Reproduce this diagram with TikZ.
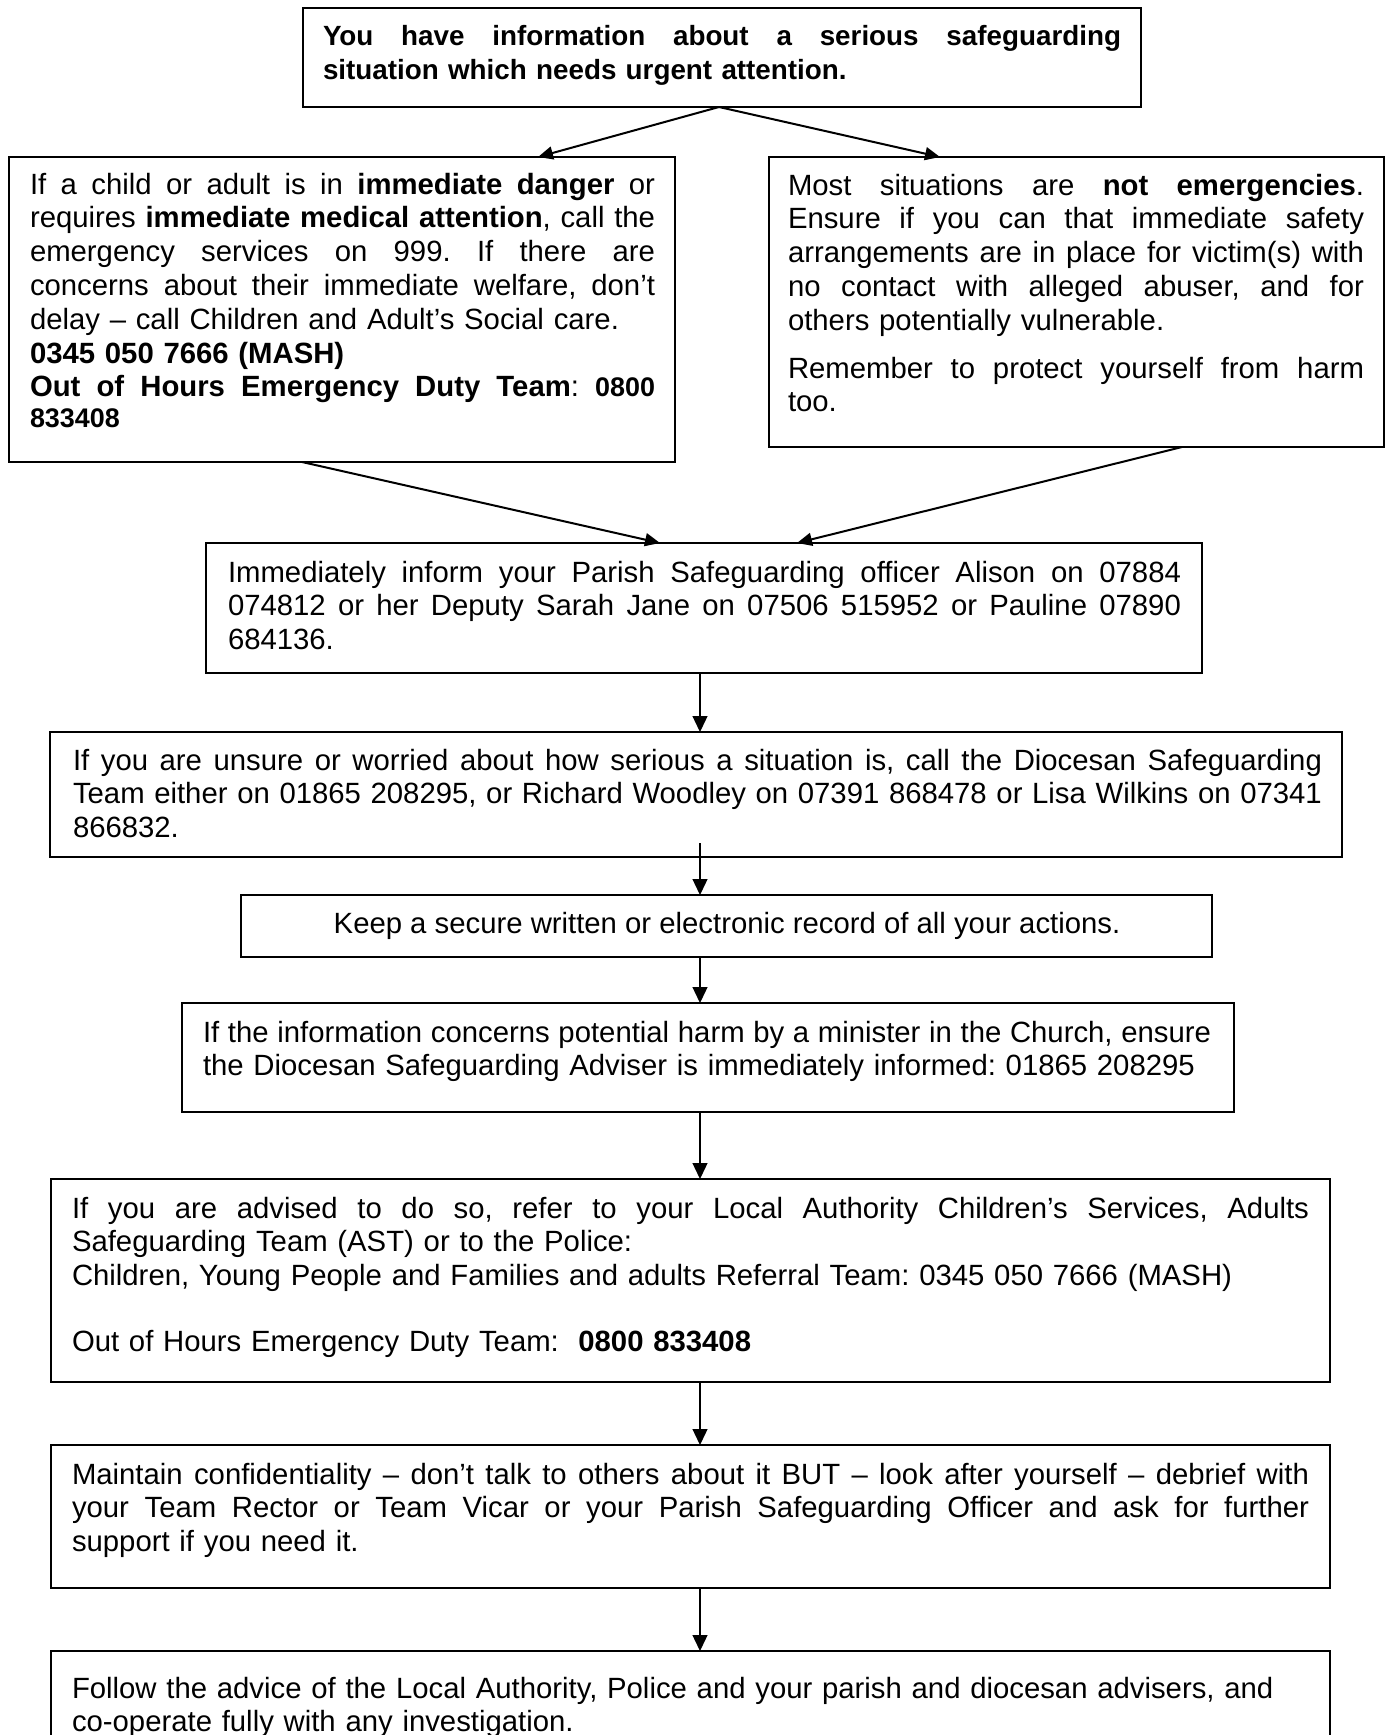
\documentclass[tikz,border=0pt]{standalone}
\usepackage{fontspec}
\setmainfont{Liberation Sans}
\usetikzlibrary{arrows.meta,fit}
\newcommand\mytext{\fontsize{14.65pt}{16.9pt}\selectfont\frenchspacing}
\newcommand\mytitle{\fontsize{13.9pt}{17pt}\selectfont\bfseries\frenchspacing}
\newcommand\mysmall{\fontsize{13.45pt}{16.9pt}\selectfont}
\newcommand\jl[2]{\leavevmode\hbox to #1{\frenchspacing\spaceskip=\fontdimen2\font plus 1fill\relax #2}}
\tikzset{
  box/.style={draw, line width=0.75pt, inner sep=0pt, outer sep=0pt, rectangle},
  txt/.style={inner sep=0pt, outer sep=0pt, anchor=base west, align=left, font=\mytext},
  darrow/.style={line width=1pt, -{Triangle[length=7.5pt,width=6.5pt]}},
  varrow/.style={line width=0.65pt, -{Triangle[length=8pt,width=7.5pt]}},
}
\begin{document}
\begin{tikzpicture}[x=0.5pt,y=-0.5pt]
\fill[white] (0,0) rectangle (1389,1735);
\useasboundingbox (0,0) rectangle (1389,1735);
\clip (0,0) rectangle (1389,1735);

% boxes
\node[box, fit={(303,8) (1141,107)}] (b1) {};
\node[box, fit={(9,157) (675,462)}] (b2) {};
\node[box, fit={(769,157) (1384,447)}] (b3) {};
\node[box, fit={(206,543) (1202,673)}] (b4) {};
\node[box, fit={(50,732) (1342,857)}] (b5) {};
\node[box, fit={(241,895) (1212,957)}] (b6) {};
\node[box, fit={(182,1003) (1234,1112)}] (b7) {};
\node[box, fit={(51,1179) (1330,1382)}] (b8) {};
\node[box, fit={(51,1445) (1330,1588)}] (b9) {};
\node[box, fit={(51,1651) (1330,1800)}] (b10) {};

% texts
\node[txt, text width=399pt, font=\mytitle] (t1) at (323,45)
 {\jl{399pt}{You have information about a serious safeguarding}\\
  situation which needs urgent attention.};

\node[txt, text width=312.5pt] (t2) at (30,194)
 {\jl{312.5pt}{If a child or adult is in \textbf{immediate danger} or}\\
  \jl{312.5pt}{requires \textbf{immediate medical attention}, call the}\\
  \jl{312.5pt}{emergency services on 999. If there are}\\
  \jl{312.5pt}{concerns about their immediate welfare, don’t}\\
  delay – call Children and Adult’s Social care.\\
  \textbf{0345 050 7666 (MASH)}\\
  \jl{312.5pt}{\textbf{Out of Hours Emergency Duty Team}: {\mysmall\bfseries 0800}}\\[-1.5pt]
  {\mysmall\bfseries 833408}};

\node[txt, text width=288pt] (t3) at (788,195)
 {\jl{288pt}{Most situations are \textbf{not emergencies}.}\\
  \jl{288pt}{Ensure if you can that immediate safety}\\
  \jl{288pt}{arrangements are in place for victim(s) with}\\
  \jl{288pt}{no contact with alleged abuser, and for}\\
  others potentially vulnerable.\\[7pt]
  \jl{288pt}{Remember to protect yourself from harm}\\
  too.};

\node[txt, text width=476.5pt] (t4) at (228,582)
 {\jl{476.5pt}{Immediately inform your Parish Safeguarding officer Alison on 07884}\\
  \jl{476.5pt}{074812 or her Deputy Sarah Jane on 07506 515952 or Pauline 07890}\\
  684136.};

\node[txt, text width=624.5pt] (t5) at (73,770)
 {\jl{624.5pt}{If you are unsure or worried about how serious a situation is, call the Diocesan Safeguarding}\\
  \jl{624.5pt}{Team either on 01865 208295, or Richard Woodley on 07391 868478 or Lisa Wilkins on 07341}\\
  866832.};

\node[inner sep=0pt, anchor=base, font=\mytext] (t6) at (727,933)
 {Keep a secure written or electronic record of all your actions.};

\node[txt, text width=510pt] (t7) at (203,1042)
 {\jl{504pt}{If the information concerns potential harm by a minister in the Church, ensure}\\
  the Diocesan Safeguarding Adviser is immediately informed: 01865 208295};

\node[txt, text width=618.5pt] (t8) at (72,1218)
 {\jl{618.5pt}{If you are advised to do so, refer to your Local Authority Children’s Services, Adults}\\
  Safeguarding Team (AST) or to the Police:\\
  Children, Young People and Families and adults Referral Team: 0345 050 7666 (MASH)\\[16pt]
  Out of Hours Emergency Duty Team:\ \ \textbf{0800 833408}};

\node[txt, text width=618.5pt] (t9) at (72,1484)
 {\jl{618.5pt}{Maintain confidentiality – don’t talk to others about it BUT – look after yourself – debrief with}\\
  \jl{618.5pt}{your Team Rector or Team Vicar or your Parish Safeguarding Officer and ask for further}\\
  support if you need it.};

\node[txt, text width=618.5pt] (t10) at (72,1698)
 {Follow the advice of the Local Authority, Police and your parish and diocesan advisers, and\\
  co-operate fully with any investigation.};

% connectors
\coordinate (s5) at (700,843);
\draw[darrow] (b1.south -| 719,0) -- (b2.north -| 538,0);
\draw[darrow] (b1.south -| 719,0) -- (b3.north -| 940,0);
\draw[darrow] (b2.south -| 302,0) -- (b4.north -| 660,0);
\draw[darrow] (b3.south -| 1182,0) -- (b4.north -| 797,0);
\draw[varrow] (b4.south -| s5) -- (b5.north -| s5);
\draw[varrow] (s5) -- (b6.north -| s5);
\draw[varrow] (b6.south -| s5) -- (b7.north -| s5);
\draw[varrow] (b7.south -| s5) -- (b8.north -| s5);
\draw[varrow] (b8.south -| s5) -- (b9.north -| s5);
\draw[varrow] (b9.south -| s5) -- (b10.north -| s5);
\end{tikzpicture}
\end{document}
